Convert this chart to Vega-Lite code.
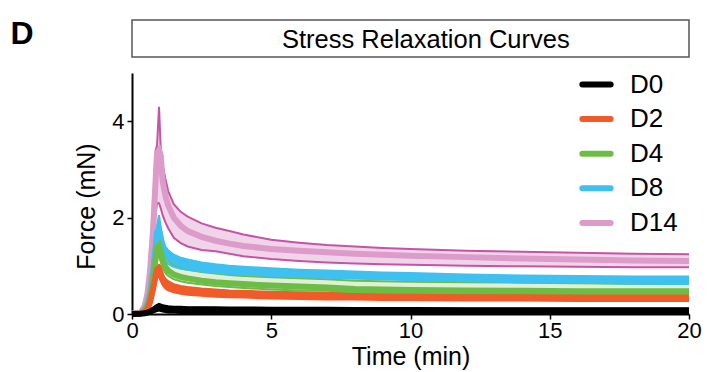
{
  "$schema": "https://vega.github.io/schema/vega-lite/v6.json",
  "padding": {"left": 9, "top": 16, "right": 10, "bottom": 5},
  "config": {
    "font": "Liberation Sans",
    "view": {"stroke": null},
    "concat": {"spacing": 15},
    "axis": {"domainColor": "black", "domainWidth": 2, "tickColor": "black", "tickWidth": 1.5, "tickSize": 5, "labelFontSize": 22, "labelColor": "black", "titleFontSize": 25, "titleFontWeight": "normal", "titleColor": "black", "grid": false, "labelFont": "Liberation Sans", "titleFont": "Liberation Sans"}
  },
  "datasets": {
    "curves": [
      {"g":"D14","t":0,"m":0.01,"lo":0,"hi":0.02},
      {"g":"D14","t":0.3,"m":0.03,"lo":0.01,"hi":0.06},
      {"g":"D14","t":0.45,"m":0.15,"lo":0.08,"hi":0.25},
      {"g":"D14","t":0.55,"m":0.4,"lo":0.25,"hi":0.6},
      {"g":"D14","t":0.65,"m":0.9,"lo":0.6,"hi":1.2},
      {"g":"D14","t":0.75,"m":1.7,"lo":1.2,"hi":2.1},
      {"g":"D14","t":0.85,"m":2.8,"lo":2.1,"hi":3.4},
      {"g":"D14","t":0.9,"m":3.35,"lo":2.3,"hi":3.5},
      {"g":"D14","t":0.97,"m":3.4,"lo":2.3,"hi":4.3},
      {"g":"D14","t":1.03,"m":3.3,"lo":2.2,"hi":3.45},
      {"g":"D14","t":1.1,"m":2.75,"lo":2.05,"hi":3.1},
      {"g":"D14","t":1.2,"m":2.45,"lo":1.9,"hi":2.8},
      {"g":"D14","t":1.3,"m":2.25,"lo":1.78,"hi":2.55},
      {"g":"D14","t":1.5,"m":2.0,"lo":1.58,"hi":2.28},
      {"g":"D14","t":1.75,"m":1.83,"lo":1.47,"hi":2.12},
      {"g":"D14","t":2,"m":1.72,"lo":1.4,"hi":2.02},
      {"g":"D14","t":2.5,"m":1.6,"lo":1.33,"hi":1.88},
      {"g":"D14","t":3,"m":1.52,"lo":1.3,"hi":1.79},
      {"g":"D14","t":3.5,"m":1.46,"lo":1.25,"hi":1.72},
      {"g":"D14","t":4,"m":1.41,"lo":1.2,"hi":1.65},
      {"g":"D14","t":5,"m":1.35,"lo":1.14,"hi":1.54},
      {"g":"D14","t":6,"m":1.31,"lo":1.1,"hi":1.48},
      {"g":"D14","t":7,"m":1.28,"lo":1.07,"hi":1.43},
      {"g":"D14","t":8,"m":1.25,"lo":1.05,"hi":1.4},
      {"g":"D14","t":9,"m":1.23,"lo":1.03,"hi":1.37},
      {"g":"D14","t":10,"m":1.21,"lo":1.02,"hi":1.35},
      {"g":"D14","t":12,"m":1.18,"lo":1.0,"hi":1.31},
      {"g":"D14","t":14,"m":1.15,"lo":0.99,"hi":1.29},
      {"g":"D14","t":16,"m":1.13,"lo":0.98,"hi":1.27},
      {"g":"D14","t":18,"m":1.11,"lo":0.97,"hi":1.25},
      {"g":"D14","t":20,"m":1.1,"lo":0.97,"hi":1.24},

      {"g":"D8","t":0,"m":0,"lo":0,"hi":0.02},
      {"g":"D8","t":0.3,"m":0.01,"lo":0,"hi":0.03},
      {"g":"D8","t":0.45,"m":0.08,"lo":0.04,"hi":0.12},
      {"g":"D8","t":0.55,"m":0.2,"lo":0.13,"hi":0.3},
      {"g":"D8","t":0.65,"m":0.45,"lo":0.32,"hi":0.6},
      {"g":"D8","t":0.75,"m":0.85,"lo":0.65,"hi":1.05},
      {"g":"D8","t":0.85,"m":1.4,"lo":1.15,"hi":1.7},
      {"g":"D8","t":0.9,"m":1.7,"lo":1.45,"hi":1.85},
      {"g":"D8","t":0.97,"m":1.75,"lo":1.5,"hi":2.05},
      {"g":"D8","t":1.03,"m":1.6,"lo":1.35,"hi":1.8},
      {"g":"D8","t":1.1,"m":1.38,"lo":1.2,"hi":1.55},
      {"g":"D8","t":1.2,"m":1.25,"lo":1.1,"hi":1.4},
      {"g":"D8","t":1.3,"m":1.18,"lo":1.04,"hi":1.32},
      {"g":"D8","t":1.5,"m":1.1,"lo":0.98,"hi":1.23},
      {"g":"D8","t":1.75,"m":1.05,"lo":0.94,"hi":1.17},
      {"g":"D8","t":2,"m":1.02,"lo":0.92,"hi":1.13},
      {"g":"D8","t":2.5,"m":0.97,"lo":0.88,"hi":1.07},
      {"g":"D8","t":3,"m":0.94,"lo":0.85,"hi":1.03},
      {"g":"D8","t":3.5,"m":0.92,"lo":0.83,"hi":1.0},
      {"g":"D8","t":4,"m":0.9,"lo":0.82,"hi":0.98},
      {"g":"D8","t":5,"m":0.87,"lo":0.79,"hi":0.95},
      {"g":"D8","t":6,"m":0.84,"lo":0.77,"hi":0.92},
      {"g":"D8","t":7,"m":0.82,"lo":0.75,"hi":0.9},
      {"g":"D8","t":8,"m":0.8,"lo":0.73,"hi":0.88},
      {"g":"D8","t":9,"m":0.79,"lo":0.72,"hi":0.86},
      {"g":"D8","t":10,"m":0.77,"lo":0.7,"hi":0.85},
      {"g":"D8","t":12,"m":0.75,"lo":0.68,"hi":0.82},
      {"g":"D8","t":14,"m":0.73,"lo":0.66,"hi":0.8},
      {"g":"D8","t":16,"m":0.72,"lo":0.65,"hi":0.79},
      {"g":"D8","t":18,"m":0.71,"lo":0.63,"hi":0.78},
      {"g":"D8","t":20,"m":0.7,"lo":0.62,"hi":0.78},

      {"g":"D4","t":0,"m":0,"lo":0,"hi":0.02},
      {"g":"D4","t":0.3,"m":0.01,"lo":0,"hi":0.03},
      {"g":"D4","t":0.45,"m":0.06,"lo":0.03,"hi":0.1},
      {"g":"D4","t":0.55,"m":0.16,"lo":0.1,"hi":0.24},
      {"g":"D4","t":0.65,"m":0.36,"lo":0.25,"hi":0.5},
      {"g":"D4","t":0.75,"m":0.7,"lo":0.52,"hi":0.9},
      {"g":"D4","t":0.85,"m":1.15,"lo":0.95,"hi":1.4},
      {"g":"D4","t":0.9,"m":1.38,"lo":1.15,"hi":1.5},
      {"g":"D4","t":0.97,"m":1.42,"lo":1.2,"hi":1.55},
      {"g":"D4","t":1.03,"m":1.3,"lo":1.1,"hi":1.48},
      {"g":"D4","t":1.1,"m":1.1,"lo":0.95,"hi":1.3},
      {"g":"D4","t":1.2,"m":0.97,"lo":0.85,"hi":1.17},
      {"g":"D4","t":1.3,"m":0.9,"lo":0.79,"hi":1.1},
      {"g":"D4","t":1.5,"m":0.82,"lo":0.72,"hi":1.0},
      {"g":"D4","t":1.75,"m":0.77,"lo":0.68,"hi":0.95},
      {"g":"D4","t":2,"m":0.74,"lo":0.65,"hi":0.92},
      {"g":"D4","t":2.5,"m":0.69,"lo":0.61,"hi":0.87},
      {"g":"D4","t":3,"m":0.66,"lo":0.58,"hi":0.84},
      {"g":"D4","t":3.5,"m":0.64,"lo":0.56,"hi":0.81},
      {"g":"D4","t":4,"m":0.62,"lo":0.54,"hi":0.79},
      {"g":"D4","t":5,"m":0.59,"lo":0.51,"hi":0.76},
      {"g":"D4","t":6,"m":0.57,"lo":0.49,"hi":0.74},
      {"g":"D4","t":7,"m":0.55,"lo":0.48,"hi":0.72},
      {"g":"D4","t":8,"m":0.52,"lo":0.45,"hi":0.69},
      {"g":"D4","t":9,"m":0.51,"lo":0.44,"hi":0.68},
      {"g":"D4","t":10,"m":0.5,"lo":0.43,"hi":0.67},
      {"g":"D4","t":12,"m":0.49,"lo":0.42,"hi":0.66},
      {"g":"D4","t":14,"m":0.48,"lo":0.41,"hi":0.65},
      {"g":"D4","t":16,"m":0.47,"lo":0.41,"hi":0.64},
      {"g":"D4","t":18,"m":0.47,"lo":0.41,"hi":0.63},
      {"g":"D4","t":20,"m":0.47,"lo":0.41,"hi":0.63},

      {"g":"D2","t":0,"m":0,"lo":0,"hi":0.02},
      {"g":"D2","t":0.3,"m":0.01,"lo":0,"hi":0.02},
      {"g":"D2","t":0.45,"m":0.04,"lo":0.02,"hi":0.06},
      {"g":"D2","t":0.55,"m":0.1,"lo":0.06,"hi":0.15},
      {"g":"D2","t":0.65,"m":0.25,"lo":0.17,"hi":0.33},
      {"g":"D2","t":0.75,"m":0.5,"lo":0.38,"hi":0.62},
      {"g":"D2","t":0.85,"m":0.8,"lo":0.65,"hi":0.95},
      {"g":"D2","t":0.9,"m":0.92,"lo":0.75,"hi":1.0},
      {"g":"D2","t":0.97,"m":0.94,"lo":0.78,"hi":1.02},
      {"g":"D2","t":1.03,"m":0.84,"lo":0.7,"hi":0.95},
      {"g":"D2","t":1.1,"m":0.7,"lo":0.6,"hi":0.82},
      {"g":"D2","t":1.2,"m":0.62,"lo":0.53,"hi":0.73},
      {"g":"D2","t":1.3,"m":0.58,"lo":0.49,"hi":0.68},
      {"g":"D2","t":1.5,"m":0.53,"lo":0.45,"hi":0.62},
      {"g":"D2","t":1.75,"m":0.5,"lo":0.42,"hi":0.58},
      {"g":"D2","t":2,"m":0.48,"lo":0.4,"hi":0.56},
      {"g":"D2","t":2.5,"m":0.45,"lo":0.38,"hi":0.53},
      {"g":"D2","t":3,"m":0.43,"lo":0.36,"hi":0.51},
      {"g":"D2","t":3.5,"m":0.42,"lo":0.35,"hi":0.49},
      {"g":"D2","t":4,"m":0.41,"lo":0.34,"hi":0.48},
      {"g":"D2","t":5,"m":0.39,"lo":0.32,"hi":0.46},
      {"g":"D2","t":6,"m":0.38,"lo":0.31,"hi":0.45},
      {"g":"D2","t":7,"m":0.37,"lo":0.3,"hi":0.44},
      {"g":"D2","t":8,"m":0.37,"lo":0.3,"hi":0.44},
      {"g":"D2","t":9,"m":0.36,"lo":0.29,"hi":0.43},
      {"g":"D2","t":10,"m":0.36,"lo":0.29,"hi":0.43},
      {"g":"D2","t":12,"m":0.35,"lo":0.28,"hi":0.42},
      {"g":"D2","t":14,"m":0.35,"lo":0.28,"hi":0.42},
      {"g":"D2","t":16,"m":0.34,"lo":0.27,"hi":0.41},
      {"g":"D2","t":18,"m":0.34,"lo":0.27,"hi":0.41},
      {"g":"D2","t":20,"m":0.34,"lo":0.27,"hi":0.41},

      {"g":"D0","t":0,"m":0,"lo":0,"hi":0.01},
      {"g":"D0","t":0.3,"m":0.005,"lo":0,"hi":0.015},
      {"g":"D0","t":0.45,"m":0.015,"lo":0,"hi":0.03},
      {"g":"D0","t":0.55,"m":0.03,"lo":0.01,"hi":0.05},
      {"g":"D0","t":0.65,"m":0.05,"lo":0.02,"hi":0.09},
      {"g":"D0","t":0.75,"m":0.08,"lo":0.03,"hi":0.13},
      {"g":"D0","t":0.85,"m":0.12,"lo":0.05,"hi":0.17},
      {"g":"D0","t":0.9,"m":0.14,"lo":0.06,"hi":0.19},
      {"g":"D0","t":0.97,"m":0.15,"lo":0.07,"hi":0.21},
      {"g":"D0","t":1.03,"m":0.14,"lo":0.06,"hi":0.2},
      {"g":"D0","t":1.1,"m":0.13,"lo":0.05,"hi":0.18},
      {"g":"D0","t":1.2,"m":0.12,"lo":0.04,"hi":0.17},
      {"g":"D0","t":1.3,"m":0.11,"lo":0.03,"hi":0.16},
      {"g":"D0","t":1.5,"m":0.1,"lo":0.03,"hi":0.15},
      {"g":"D0","t":1.75,"m":0.095,"lo":0.02,"hi":0.15},
      {"g":"D0","t":2,"m":0.09,"lo":0.02,"hi":0.14},
      {"g":"D0","t":2.5,"m":0.09,"lo":0.02,"hi":0.14},
      {"g":"D0","t":3,"m":0.085,"lo":0.02,"hi":0.14},
      {"g":"D0","t":3.5,"m":0.085,"lo":0.02,"hi":0.135},
      {"g":"D0","t":4,"m":0.08,"lo":0.02,"hi":0.135},
      {"g":"D0","t":5,"m":0.08,"lo":0.015,"hi":0.13},
      {"g":"D0","t":6,"m":0.08,"lo":0.015,"hi":0.13},
      {"g":"D0","t":7,"m":0.075,"lo":0.015,"hi":0.13},
      {"g":"D0","t":8,"m":0.075,"lo":0.01,"hi":0.125},
      {"g":"D0","t":9,"m":0.075,"lo":0.01,"hi":0.125},
      {"g":"D0","t":10,"m":0.075,"lo":0.01,"hi":0.125},
      {"g":"D0","t":12,"m":0.07,"lo":0.01,"hi":0.12},
      {"g":"D0","t":14,"m":0.07,"lo":0.01,"hi":0.12},
      {"g":"D0","t":16,"m":0.07,"lo":0.01,"hi":0.12},
      {"g":"D0","t":18,"m":0.07,"lo":0.01,"hi":0.12},
      {"g":"D0","t":20,"m":0.07,"lo":0.01,"hi":0.12}
    ]
  },
  "vconcat": [
    {
      "width": 557,
      "height": 37,
      "view": {"stroke": "#555555", "strokeWidth": 1.5},
      "encoding": {
        "x": {"field": "px", "type": "quantitative", "scale": {"domain": [0, 20]}, "axis": null},
        "y": {"field": "py", "type": "quantitative", "scale": {"domain": [0, 1]}, "axis": null},
        "text": {"field": "label"}
      },
      "layer": [
        {
          "data": {"values": [{"label": "Stress Relaxation Curves", "px": 10.55, "py": 0.47}]},
          "mark": {"type": "text", "fontSize": 25.5, "baseline": "middle", "align": "center", "color": "black", "font": "Liberation Sans"}
        },
        {
          "data": {"values": [{"label": "D", "px": -3.95, "py": 0.63}]},
          "mark": {"type": "text", "fontSize": 32, "fontWeight": "bold", "baseline": "middle", "align": "center", "color": "black", "font": "Liberation Sans"}
        }
      ]
    },
    {
      "width": 557,
      "height": 241,
      "data": {"name": "curves"},
      "encoding": {
        "x": {"field": "t", "type": "quantitative", "title": "Time (min)", "scale": {"domain": [0, 20], "nice": false},
              "axis": {"values": [0, 5, 10, 15, 20], "labelFlush": false, "labelPadding": 1, "titlePadding": 3}}
      },
      "layer": [
        {
          "mark": {"type": "area", "opacity": 1},
          "encoding": {
            "y": {"field": "lo", "type": "quantitative", "title": "Force (mN)", "scale": {"domain": [0, 5], "nice": false},
                  "axis": {"values": [0, 2, 4], "labelPadding": 3, "titlePadding": 12, "titleY": 133}},
            "y2": {"field": "hi"},
            "fill": {"field": "g", "type": "nominal", "legend": null,
                     "scale": {"domain": ["D14", "D8", "D4", "D2", "D0"], "range": ["#f0d5ea", "#3ec1f0", "#e1efd6", "#f15a29", "#000000"]}}
          }
        },
        {
          "mark": {"type": "line", "strokeWidth": 2},
          "encoding": {
            "y": {"field": "hi", "type": "quantitative", "title": "Force (mN)"},
            "stroke": {"field": "g", "type": "nominal", "legend": null,
                       "scale": {"domain": ["D2", "D0", "D4", "D8", "D14"], "range": ["#f15a29", "#000000", "#6cbd45", "#3ec1f0", "#c653a5"]}}
          }
        },
        {
          "mark": {"type": "line", "strokeWidth": 2},
          "encoding": {
            "y": {"field": "lo", "type": "quantitative", "title": "Force (mN)"},
            "stroke": {"field": "g", "type": "nominal", "legend": null}
          }
        },
        {
          "mark": {"type": "line", "strokeWidth": 6},
          "encoding": {
            "y": {"field": "m", "type": "quantitative", "title": "Force (mN)"},
            "color": {"field": "g", "type": "nominal",
                      "scale": {"domain": ["D0", "D2", "D4", "D8", "D14"], "range": ["#000000", "#f15a29", "#6cbd45", "#3ec1f0", "#dc9bc9"]},
                      "legend": {"orient": "none", "legendX": 447, "legendY": 47, "title": null, "symbolType": "stroke", "symbolStrokeWidth": 6, "symbolSize": 800,
                                 "labelFontSize": 26, "labelColor": "black", "labelFont": "Liberation Sans", "rowPadding": 3.6, "padding": 0, "labelOffset": 16,
                                 "encode": {"symbols": {"update": {"strokeCap": {"value": "round"}}}}}}
          }
        }
      ]
    }
  ]
}
